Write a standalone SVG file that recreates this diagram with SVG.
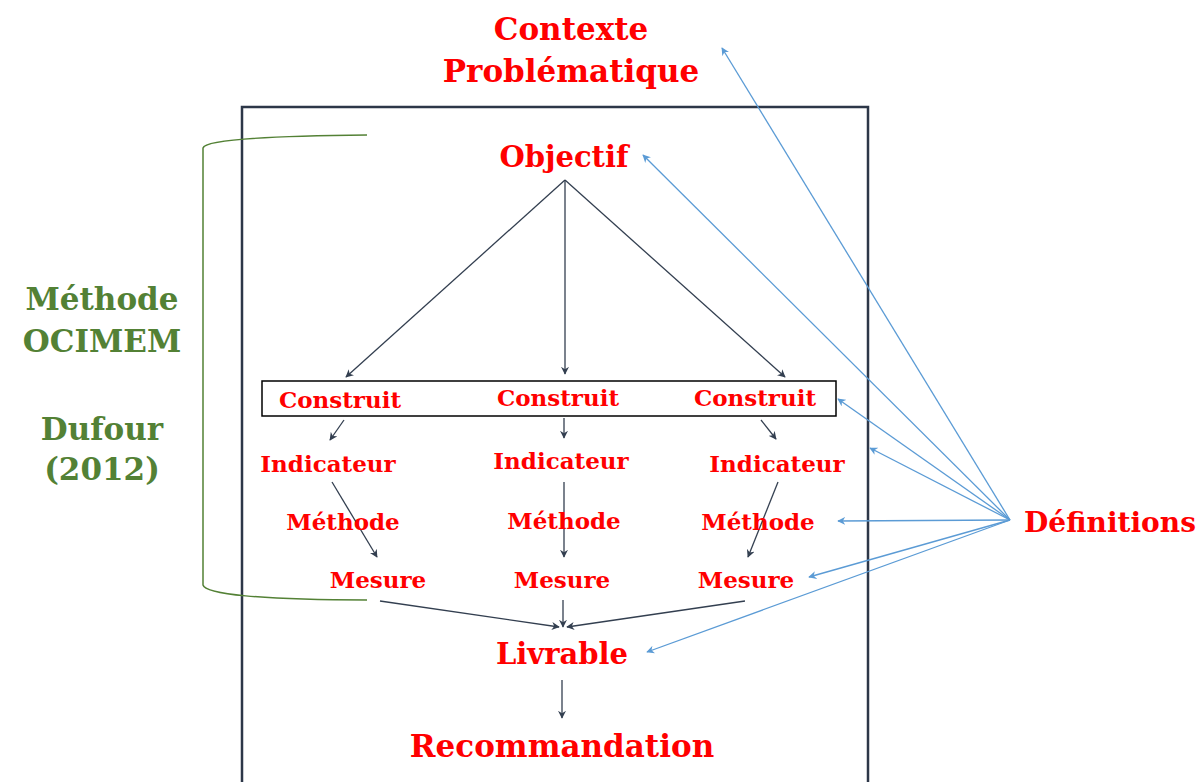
<svg xmlns="http://www.w3.org/2000/svg" width="1199" height="782" viewBox="0 0 1199 782">
<style>
.t{font-family:"DejaVu Serif","Liberation Serif",serif;font-weight:bold;fill:#ff0000;text-anchor:middle}
.s{font-size:23px}
.g{font-family:"DejaVu Serif","Liberation Serif",serif;font-weight:bold;fill:#538135;text-anchor:middle;font-size:31px}
.d{stroke:#333f50;stroke-width:1.3;fill:none;marker-end:url(#ad)}
.b{stroke:#5b9bd5;stroke-width:1.3;fill:none;marker-end:url(#ab)}
</style>
<defs>
<marker id="ad" viewBox="0 0 10 10" refX="9" refY="5" markerWidth="8" markerHeight="8" markerUnits="userSpaceOnUse" orient="auto"><path d="M0,0 L10,5 L0,10 L3,5 z" fill="#333f50"/></marker>
<marker id="ab" viewBox="0 0 10 10" refX="9" refY="5" markerWidth="8" markerHeight="8" markerUnits="userSpaceOnUse" orient="auto"><path d="M0,0 L10,5 L0,10 L3,5 z" fill="#5b9bd5"/></marker>
</defs>
<rect width="1199" height="782" fill="#ffffff"/>
<g id="frame"><rect x="242" y="107" width="626" height="690" fill="none" stroke="#2d3748" stroke-width="2.5"/></g>
<g id="bracket"><path d="M367,135 C260,136 205,140 203,148 L203,585 C205,594 260,600 367,600" fill="none" stroke="#538135" stroke-width="1.5"/></g>
<g id="construit-box"><rect x="262" y="381" width="574" height="35" fill="none" stroke="#000" stroke-width="1.5"/></g>
<g id="connectors">
<line class="d" x1="565" y1="180" x2="346" y2="377"/>
<line class="d" x1="565" y1="180" x2="565" y2="374"/>
<line class="d" x1="565" y1="180" x2="785" y2="377"/>
<line class="d" x1="344" y1="420" x2="330" y2="440"/>
<line class="d" x1="564" y1="418" x2="564" y2="438"/>
<line class="d" x1="761" y1="420" x2="776" y2="439"/>
<line class="d" x1="332" y1="482" x2="377" y2="557"/>
<line class="d" x1="564" y1="482" x2="564" y2="557"/>
<line class="d" x1="778" y1="482" x2="748" y2="557"/>
<line class="d" x1="380" y1="601" x2="559" y2="627"/>
<line class="d" x1="563" y1="600" x2="563" y2="627"/>
<line class="d" x1="745" y1="601" x2="567" y2="627"/>
<line class="d" x1="562" y1="680" x2="562" y2="718"/>
<line class="b" x1="1010" y1="520" x2="722" y2="48"/>
<line class="b" x1="1010" y1="520" x2="643" y2="155"/>
<line class="b" x1="1010" y1="520" x2="838" y2="399"/>
<line class="b" x1="1010" y1="520" x2="870" y2="448"/>
<line class="b" x1="1010" y1="520" x2="838" y2="521"/>
<line class="b" x1="1010" y1="520" x2="809" y2="577"/>
<line class="b" x1="1010" y1="520" x2="647" y2="652"/>
</g>
<g id="contexte"><text class="t" x="571" y="40" font-size="31">Contexte</text><text class="t" x="571" y="82" font-size="31">Problématique</text></g>
<g id="objectif"><text class="t" x="564" y="167" font-size="29">Objectif</text></g>
<g id="construit1"><text class="t s" x="340" y="408">Construit</text></g>
<g id="construit2"><text class="t s" x="558" y="406">Construit</text></g>
<g id="construit3"><text class="t s" x="755" y="406">Construit</text></g>
<g id="indicateur1"><text class="t s" x="328" y="472">Indicateur</text></g>
<g id="indicateur2"><text class="t s" x="561" y="469">Indicateur</text></g>
<g id="indicateur3"><text class="t s" x="777" y="472">Indicateur</text></g>
<g id="methode1"><text class="t s" x="343" y="530">Méthode</text></g>
<g id="methode2"><text class="t s" x="564" y="529">Méthode</text></g>
<g id="methode3"><text class="t s" x="758" y="530">Méthode</text></g>
<g id="mesure1"><text class="t s" x="378" y="588">Mesure</text></g>
<g id="mesure2"><text class="t s" x="562" y="588">Mesure</text></g>
<g id="mesure3"><text class="t s" x="746" y="588">Mesure</text></g>
<g id="livrable"><text class="t" x="562" y="664" font-size="29">Livrable</text></g>
<g id="recommandation"><text class="t" x="562" y="757" font-size="31">Recommandation</text></g>
<g id="definitions"><text class="t" x="1110" y="532" font-size="28">Définitions</text></g>
<g id="ocimem"><text class="g" x="102" y="310">Méthode</text><text class="g" x="102" y="352" font-size="33">OCIMEM</text><text class="g" x="102" y="440">Dufour</text><text class="g" x="102" y="480" font-size="30">(2012)</text></g>
</svg>
